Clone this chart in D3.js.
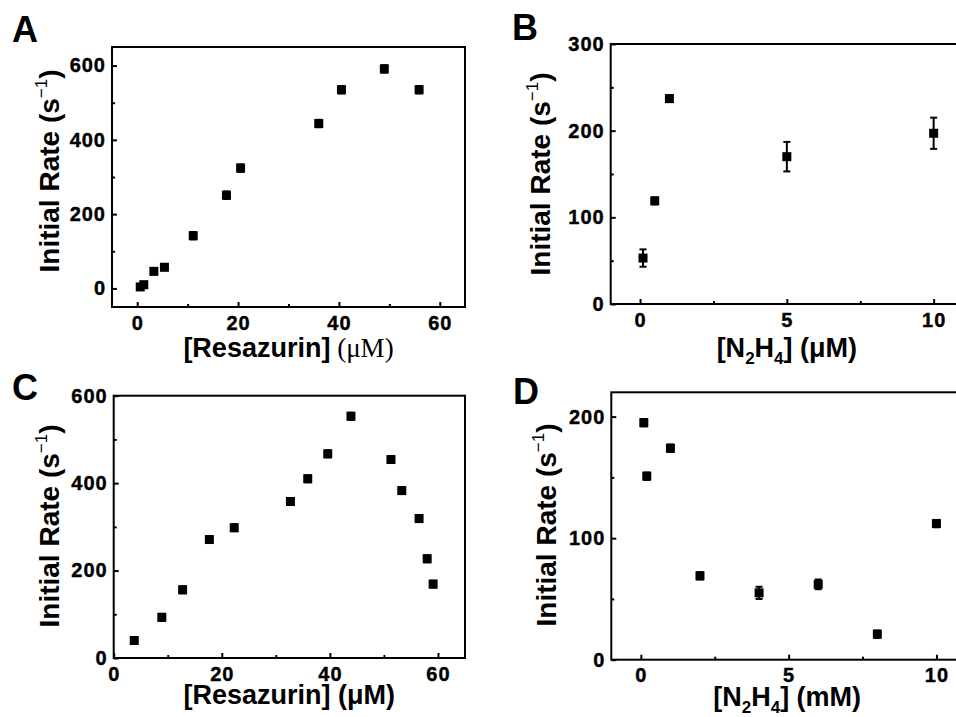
<!DOCTYPE html>
<html>
<head>
<meta charset="utf-8">
<script src="https://cdn.jsdelivr.net/npm/d3@7"></script>
<style>
    body { margin: 0; background: #fff; }
    svg { display: block; }
    text { font-family: "Liberation Sans", Arial, sans-serif; font-weight: bold; fill: #000; }
</style>
</head>
<body>
<div id="chart"></div>
<script>
// Panel A: rate vs resazurin
const aConc = [0.6, 1.3, 3.3, 5.4, 11.1, 17.7, 20.5, 36.0, 40.5, 49.0, 55.9];
const aRate = [4, 10, 46, 57, 142, 251, 324, 444, 535, 591, 535];
const aErr  = [8, 8, 8, 8, 10, 10, 10, 10, 10, 10, 10];

// Panel B: rate vs N2H4 (uM)
const bConc = [0.1, 0.5, 1.0, 5.0, 10.0];
const bRate = [53, 119, 237, 170, 197];
const bErr  = [10, 4, 4, 17, 18];

// Panel C: rate vs resazurin
const cConc = [3.8, 8.9, 12.75, 17.7, 22.3, 32.7, 35.9, 39.6, 43.9, 51.3, 53.3, 56.5, 58.0, 59.1];
const cRate = [40, 93, 156, 271, 298, 358, 410, 467, 553, 454, 383, 319, 227, 169];
const cErr  = [8, 8, 8, 8, 8, 8, 8, 8, 8, 8, 8, 8, 8, 8];

// Panel D: rate vs N2H4 (mM)
const dConc = [0.1, 0.2, 1.0, 2.0, 4.0, 6.0, 8.0, 10.0];
const dRate = [195, 151, 174, 69, 55, 62, 21, 112];
const dErr  = [3, 3, 3, 3, 5, 4, 3, 3];

// tick values
const aXTicks = [0, 20, 40, 60], aXMinor = [10, 30, 50];
const aYTicks = [0, 200, 400, 600], aYMinor = [100, 300, 500];
const bXTicks = [0, 5, 10], bXMinor = [2.5, 7.5];
const bYTicks = [0, 100, 200, 300], bYMinor = [50, 150, 250];
const cXTicks = [0, 20, 40, 60], cXMinor = [10, 30, 50];
const cYTicks = [0, 200, 400, 600], cYMinor = [100, 300, 500];
const dXTicks = [0, 5, 10], dXMinor = [2.5, 7.5];
const dYTicks = [0, 100, 200], dYMinor = [50, 150];

const W = 956, H = 717;

const svg = d3.select( '#chart' )
    .append( 'svg' )
    .attr( 'width', W )
    .attr( 'height', H );

function zip( xs, ys, es ) {
    return xs.map( ( x, i ) => ( { x: x, y: ys[i], e: es[i] } ) );
}

const panels = [
    {
        letter: 'A', letterPos: [12, 42],
        box: { left: 112, right: 465, top: 47, bottom: 307 },
        xDomain: [-5, 65], yDomain: [-50, 650],
        xTicks: aXTicks, xMinor: aXMinor, yTicks: aYTicks, yMinor: aYMinor,
        data: zip( aConc, aRate, aErr ),
        xLabel: [ { t: '[Resazurin]' }, { t: ' (\u03bcM)', serif: true } ], xLabelY: 357,
        yLabelX: 59, yLabelY: 171
    },
    {
        letter: 'B', letterPos: [512, 40],
        box: { left: 610.7, right: 963, top: 44, bottom: 304 },
        xDomain: [-1, 11], yDomain: [0, 300],
        xTicks: bXTicks, xMinor: bXMinor, yTicks: bYTicks, yMinor: bYMinor,
        data: zip( bConc, bRate, bErr ),
        xLabel: [ { t: '[N' }, { t: '2', sub: true }, { t: 'H' }, { t: '4', sub: true }, { t: '] (\u03bcM)' } ], xLabelY: 357,
        yLabelX: 550, yLabelY: 174
    },
    {
        letter: 'C', letterPos: [12, 400],
        box: { left: 113.7, right: 465, top: 395.7, bottom: 658 },
        xDomain: [0, 65], yDomain: [0, 600],
        xTicks: cXTicks, xMinor: cXMinor, yTicks: cYTicks, yMinor: cYMinor,
        data: zip( cConc, cRate, cErr ),
        xLabel: [ { t: '[Resazurin] (\u03bcM)' } ], xLabelY: 704,
        yLabelX: 59, yLabelY: 526
    },
    {
        letter: 'D', letterPos: [513, 404],
        box: { left: 611.3, right: 966, top: 392.3, bottom: 659.7 },
        xDomain: [-1, 11], yDomain: [0, 220],
        xTicks: dXTicks, xMinor: dXMinor, yTicks: dYTicks, yMinor: dYMinor,
        data: zip( dConc, dRate, dErr ),
        xLabel: [ { t: '[N' }, { t: '2', sub: true }, { t: 'H' }, { t: '4', sub: true }, { t: '] (mM)' } ], xLabelY: 706,
        yLabelX: 556, yLabelY: 525
    }
];

function drawPanel( p ) {
    const b = p.box;
    const x = d3.scaleLinear().domain( p.xDomain ).range( [b.left, b.right] );
    const y = d3.scaleLinear().domain( p.yDomain ).range( [b.bottom, b.top] );
    const g = svg.append( 'g' );

    // Minor ticks first, then major.
    const xMin = g.append( 'g' )
        .attr( 'transform', 'translate(0,' + b.bottom + ')' )
        .call( d3.axisBottom( x ).tickValues( p.xMinor ).tickSize( -3 ).tickFormat( '' ) );
    const yMin = g.append( 'g' )
        .attr( 'transform', 'translate(' + b.left + ',0)' )
        .call( d3.axisLeft( y ).tickValues( p.yMinor ).tickSize( -3 ).tickFormat( '' ) );
    const xAx = g.append( 'g' )
        .attr( 'transform', 'translate(0,' + b.bottom + ')' )
        .call( d3.axisBottom( x ).tickValues( p.xTicks ).tickSize( -5 ).tickPadding( 8.5 ) );
    const yAx = g.append( 'g' )
        .attr( 'transform', 'translate(' + b.left + ',0)' )
        .call( d3.axisLeft( y ).tickValues( p.yTicks ).tickSize( -5 ).tickPadding( 6 ) );

    [xMin, yMin, xAx, yAx].forEach( function ( a ) {
        a.select( '.domain' ).remove();
        a.selectAll( 'line' ).attr( 'stroke', '#000' ).attr( 'stroke-width', 2 );
        a.selectAll( 'text' )
            .attr( 'font-family', '"Liberation Sans", Arial, sans-serif' )
            .attr( 'font-weight', 'bold' )
            .attr( 'font-size', 20 )
            .attr( 'letter-spacing', 1 )
            .attr( 'stroke', '#000' )
            .attr( 'stroke-width', 0.4 )
            .attr( 'fill', '#000' );
    } );

    // Plot frame.
    g.append( 'rect' )
        .attr( 'x', b.left )
        .attr( 'y', b.top )
        .attr( 'width', b.right - b.left )
        .attr( 'height', b.bottom - b.top )
        .attr( 'fill', 'none' )
        .attr( 'stroke', '#000' )
        .attr( 'stroke-width', 2 );

    // Error bars.
    const eb = g.append( 'g' )
        .selectAll( 'g' )
        .data( p.data )
        .join( 'g' )
        .attr( 'stroke', '#000' )
        .attr( 'stroke-width', 2 );
    eb.append( 'line' )
        .attr( 'x1', d => x( d.x ) ).attr( 'x2', d => x( d.x ) )
        .attr( 'y1', d => y( d.y - d.e ) ).attr( 'y2', d => y( d.y + d.e ) );
    eb.append( 'line' )
        .attr( 'x1', d => x( d.x ) - 3.5 ).attr( 'x2', d => x( d.x ) + 3.5 )
        .attr( 'y1', d => y( d.y + d.e ) ).attr( 'y2', d => y( d.y + d.e ) );
    eb.append( 'line' )
        .attr( 'x1', d => x( d.x ) - 3.5 ).attr( 'x2', d => x( d.x ) + 3.5 )
        .attr( 'y1', d => y( d.y - d.e ) ).attr( 'y2', d => y( d.y - d.e ) );

    // Square markers.
    g.append( 'g' )
        .selectAll( 'rect' )
        .data( p.data )
        .join( 'rect' )
        .attr( 'x', d => x( d.x ) - 4.5 )
        .attr( 'y', d => y( d.y ) - 4.5 )
        .attr( 'width', 9 )
        .attr( 'height', 9 )
        .attr( 'fill', '#000' );

    // Panel letter.
    g.append( 'text' )
        .attr( 'x', p.letterPos[0] )
        .attr( 'y', p.letterPos[1] )
        .attr( 'font-size', 36 )
        .text( p.letter );

    // X axis title.
    const xt = g.append( 'text' )
        .attr( 'x', ( b.left + Math.min( b.right, 963 ) ) / 2 )
        .attr( 'y', p.xLabelY )
        .attr( 'text-anchor', 'middle' )
        .attr( 'font-size', 27 );
    let shifted = false;
    p.xLabel.forEach( function ( part ) {
        const ts = xt.append( 'tspan' ).text( part.t );
        if ( part.serif ) {
            ts.attr( 'font-family', '"Liberation Serif", "Times New Roman", serif' )
                .attr( 'font-weight', 'normal' )
                .attr( 'font-size', 27 );
        }
        if ( part.sub ) {
            ts.attr( 'font-size', 17 ).attr( 'dy', 7 );
            shifted = true;
        }
        else if ( shifted ) {
            ts.attr( 'dy', -7 );
            shifted = false;
        }
    } );

    // Y axis title.
    const yt = g.append( 'text' )
        .attr( 'transform', 'translate(' + p.yLabelX + ',' + p.yLabelY + ') rotate(-90)' )
        .attr( 'text-anchor', 'middle' )
        .attr( 'font-size', 28 );
    yt.append( 'tspan' ).text( 'Initial Rate (s' );
    yt.append( 'tspan' ).attr( 'font-size', 17 ).attr( 'font-weight', 'normal' ).attr( 'dy', -12 ).text( '\u22121' );
    yt.append( 'tspan' ).attr( 'dy', 12 ).text( ')' );
}

panels.forEach( drawPanel );
</script>
</body>
</html>
